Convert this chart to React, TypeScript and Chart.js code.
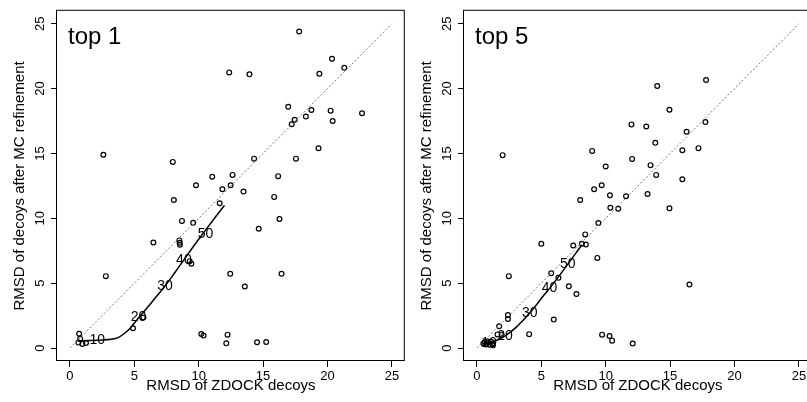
import React, { useEffect, useRef } from 'react';
import { Chart, registerables } from 'chart.js';

Chart.register(...registerables);

const FONT = '"Liberation Sans", Arial, Helvetica, sans-serif';

const axisTicks = [0, 5, 10, 15, 20, 25];
const diagX = [0, 25];
const diagY = [0, 25];
const curveLabels = ['10', '20', '30', '40', '50'];

// ---- top 1 panel ----
const top1X = [2.6, 17.8, 20.35, 21.3, 19.37, 12.37, 13.94, 16.95, 18.75, 20.24, 22.68, 18.32, 17.45, 17.22, 20.4,
  19.3, 17.55, 14.3, 7.99, 11.05, 12.63, 16.17, 9.79, 12.48, 11.84, 13.48, 15.86, 8.07, 11.63, 8.7,
  9.57, 16.27, 14.66, 6.48, 8.5, 8.52, 8.54, 2.79, 9.3, 9.43, 12.45, 16.43, 13.58, 5.71, 4.9,
  10.2, 10.38, 12.24, 12.14, 14.53, 15.24, 0.72, 0.8, 0.66, 0.97, 1.25];
const top1Y = [14.9, 24.4, 22.3, 21.6, 21.15, 21.25, 21.1, 18.6, 18.35, 18.3, 18.1, 17.85, 17.6, 17.25, 17.5,
  15.4, 14.6, 14.6, 14.35, 13.2, 13.35, 13.25, 12.55, 12.55, 12.24, 12.06, 11.65, 11.41, 11.16, 9.8,
  9.65, 9.95, 9.2, 8.14, 8.3, 8.12, 7.97, 5.54, 6.7, 6.5, 5.72, 5.72, 4.74, 2.35, 1.53,
  1.08, 0.96, 1.03, 0.36, 0.44, 0.46, 1.1, 0.72, 0.42, 0.32, 0.39];
const top1CurveX = [0.6, 1.5, 2.5, 3.2, 3.7, 4.2, 4.7, 5.3, 6.0, 6.7, 7.4, 8.1, 8.85, 9.6, 10.5, 11.3, 12.0];
const top1CurveY = [0.55, 0.58, 0.62, 0.68, 0.78, 1.1, 1.55, 2.3, 3.1, 3.95, 4.8, 5.75, 6.8, 7.85, 9.05, 10.1, 11.0];
const top1LabelX = [2.13, 5.33, 7.38, 8.85, 10.53];
const top1LabelY = [0.59, 2.39, 4.75, 6.8, 8.76];

// ---- top 5 panel ----
const top5X = [2.0, 14.0, 17.79, 14.95, 12.0, 13.15, 17.74, 16.28, 13.85, 8.95, 15.95, 17.2, 12.05, 10.0, 13.48,
  13.92, 15.95, 9.69, 9.1, 10.33, 11.58, 13.25, 8.02, 10.36, 10.97, 14.95, 9.43, 8.41, 5.0, 7.48,
  8.15, 8.46, 9.35, 5.77, 6.33, 2.48, 7.14, 16.5, 7.73, 2.41, 2.41, 5.97, 1.73, 4.06, 1.6,
  1.92, 9.72, 10.3, 10.5, 12.1, 0.5, 0.6, 0.7, 0.85, 1.0, 1.2, 1.1, 0.8, 1.25];
const top5Y = [14.87, 20.2, 20.66, 18.37, 17.24, 17.08, 17.42, 16.67, 15.82, 15.2, 15.25, 15.41, 14.58, 13.99, 14.1,
  13.35, 13.01, 12.55, 12.24, 11.78, 11.7, 11.88, 11.41, 10.82, 10.74, 10.77, 9.64, 8.76, 8.04, 7.9,
  8.04, 7.98, 6.95, 5.76, 5.41, 5.54, 4.76, 4.9, 4.16, 2.55, 2.24, 2.19, 1.68, 1.07, 1.05,
  1.03, 1.03, 0.93, 0.57, 0.34, 0.35, 0.45, 0.28, 0.4, 0.25, 0.35, 0.5, 0.52, 0.22];
const top5CurveX = [0.5, 1.0, 1.5, 2.0, 2.5, 3.0, 3.5, 4.1, 4.6, 5.1, 5.64, 6.3, 7.05, 7.6, 8.15];
const top5CurveY = [0.35, 0.42, 0.58, 0.82, 1.15, 1.55, 2.05, 2.7, 3.3, 3.95, 4.6, 5.45, 6.45, 7.2, 7.95];
const top5LabelX = [0.95, 2.18, 4.1, 5.64, 7.05];
const top5LabelY = [0.4, 0.9, 2.7, 4.59, 6.49];

type Panel = {
  name: string;
  px: number[]; py: number[];
  cx: number[]; cy: number[];
  lx: number[]; ly: number[];
};

const panels: Panel[] = [
  { name: 'top 1', px: top1X, py: top1Y, cx: top1CurveX, cy: top1CurveY, lx: top1LabelX, ly: top1LabelY },
  { name: 'top 5', px: top5X, py: top5Y, cx: top5CurveX, cy: top5CurveY, lx: top5LabelX, ly: top5LabelY },
];

const toPts = (xs: number[], ys: number[]) => xs.map((x, i) => ({ x, y: ys[i] }));

function makePlugin(panel: Panel) {
  return {
    id: 'panelDecor',
    afterDatasetsDraw(chart: any) {
      const { ctx, chartArea, scales } = chart;
      ctx.save();
      // curve labels
      ctx.fillStyle = '#000';
      ctx.font = `14px ${FONT}`;
      ctx.textAlign = 'center';
      ctx.textBaseline = 'middle';
      curveLabels.forEach((t, i) => {
        ctx.fillText(t, scales.x.getPixelForValue(panel.lx[i]), scales.y.getPixelForValue(panel.ly[i]));
      });
      // panel tag
      ctx.font = `24px ${FONT}`;
      ctx.textAlign = 'left';
      ctx.textBaseline = 'alphabetic';
      ctx.fillText(panel.name, chartArea.left + 11, chartArea.top + 33.5);
      // box
      ctx.strokeStyle = '#000';
      ctx.lineWidth = 1;
      ctx.strokeRect(chartArea.left - 0.5, chartArea.top - 0.5, chartArea.right - chartArea.left, chartArea.bottom - chartArea.top);
      ctx.restore();
    },
  };
}

function buildConfig(panel: Panel): any {
  const setTicks = (axis: any) => {
    axis.ticks = axisTicks.map((v) => ({ value: v }));
  };
  const gridOpts = { display: true, drawOnChartArea: false, drawTicks: true, tickLength: 6, color: '#000', lineWidth: 1 };
  return {
    type: 'scatter',
    data: {
      datasets: [
        {
          label: 'diag', data: toPts(diagX, diagY), showLine: true, borderColor: '#777777',
          borderWidth: 1, borderDash: [2, 2], pointRadius: 0, pointHoverRadius: 0, fill: false,
        },
        {
          label: 'curve', data: toPts(panel.cx, panel.cy), showLine: true, borderColor: '#000',
          borderWidth: 1.5, pointRadius: 0, pointHoverRadius: 0, cubicInterpolationMode: 'monotone', fill: false,
        },
        {
          label: 'decoys', data: toPts(panel.px, panel.py), showLine: false, pointRadius: 2.4,
          pointBorderWidth: 1.2, pointBorderColor: '#000', pointBackgroundColor: 'rgba(0,0,0,0)',
          borderColor: '#000', backgroundColor: 'rgba(0,0,0,0)',
        },
      ],
    },
    options: {
      animation: false,
      responsive: false,
      maintainAspectRatio: false,
      layout: { padding: { left: 0, top: 10, right: 3, bottom: 0 } },
      plugins: { legend: { display: false }, tooltip: { enabled: false }, title: { display: false } },
      scales: {
        x: {
          type: 'linear', min: -1, max: 26,
          afterBuildTicks: setTicks,
          afterFit: (s: any) => { s.height = 41; },
          grid: gridOpts,
          border: { display: false },
          ticks: { font: { family: FONT, size: 13 }, color: '#000', padding: 2, minRotation: 0, maxRotation: 0, autoSkip: false },
          title: { display: true, text: 'RMSD of ZDOCK decoys', color: '#000', font: { family: FONT, size: 15 }, padding: { top: 0, bottom: 7.5 } },
        },
        y: {
          type: 'linear', min: -1, max: 26,
          afterBuildTicks: setTicks,
          afterFit: (s: any) => { s.width = 57; },
          grid: gridOpts,
          border: { display: false },
          ticks: { font: { family: FONT, size: 13 }, color: '#000', padding: 3, minRotation: 90, maxRotation: 90, crossAlign: 'center', autoSkip: false },
          title: { display: true, text: 'RMSD of decoys after MC refinement', color: '#000', font: { family: FONT, size: 15 }, padding: { top: 11, bottom: 0 } },
        },
      },
    },
    plugins: [makePlugin(panel)],
  };
}

function PanelChart({ panel, left }: { panel: Panel; left: number }) {
  const ref = useRef<HTMLCanvasElement | null>(null);
  useEffect(() => {
    if (!ref.current) return;
    const chart = new Chart(ref.current, buildConfig(panel));
    return () => chart.destroy();
  }, [panel]);
  return (
    <canvas
      ref={ref}
      width={410}
      height={402}
      style={{ position: 'absolute', left, top: 0, width: 410, height: 402 }}
    />
  );
}

export default function App() {
  return (
    <div style={{ position: 'absolute', left: 0, top: 0, width: 807, height: 402, overflow: 'hidden', background: '#fff' }}>
      <PanelChart panel={panels[0]} left={0} />
      <PanelChart panel={panels[1]} left={407} />
    </div>
  );
}
